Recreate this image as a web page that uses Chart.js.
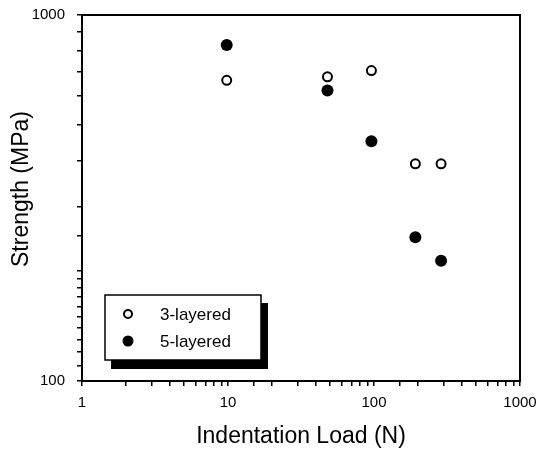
<!DOCTYPE html>
<html>
<head>
<meta charset="utf-8">
<script src="https://cdn.jsdelivr.net/npm/chart.js@4"></script>
<style>
  html, body { margin: 0; padding: 0; background: #fff; }
  #wrap { width: 540px; height: 453px; position: relative; }
</style>
</head>
<body>
<div id="wrap"><canvas id="strengthChart"></canvas></div>
<script>
// values (log-log)
const loads = [9.8, 48, 96, 192, 288];
const threeLayered = [663, 678, 705, 392, 392];
const fiveLayered = [828, 622, 452, 247, 213];
const xTickLabels = [1, 10, 100, 1000];
const yTickLabels = [100, 1000];
const seriesNames = ['3-layered', '5-layered'];

const FONT = '"Liberation Sans", Arial, sans-serif';

function toPoints(xs, ys) {
    return xs.map((x, i) => ({x: x, y: ys[i]}));
}

// frame, axis titles and the boxed legend with its drop shadow
const decorations = {
    id: 'decorations',
    afterDraw(chart) {
        const c = chart.ctx;
        const a = chart.chartArea;
        c.save();
        c.strokeStyle = '#000';
        c.lineWidth = 2;
        c.strokeRect(a.left, a.top, a.right - a.left, a.bottom - a.top);

        c.fillStyle = '#000';
        c.font = '23px ' + FONT;
        c.textAlign = 'center';
        c.textBaseline = 'middle';
        c.fillText('Indentation Load (N)', 301, 437);
        c.save();
        c.translate(22, 189);
        c.rotate(-Math.PI / 2);
        c.fillText('Strength (MPa)', 0, 0);
        c.restore();

        // legend
        const bx = 105, by = 295, bw = 156, bh = 65;
        c.fillStyle = '#000';
        c.fillRect(bx + 6, by + 8, bw + 1, bh + 1);
        c.fillStyle = '#fff';
        c.fillRect(bx, by, bw, bh);
        c.lineWidth = 1.5;
        c.strokeStyle = '#000';
        c.strokeRect(bx, by, bw, bh);

        c.beginPath();
        c.arc(128, 314, 4, 0, Math.PI * 2);
        c.fillStyle = '#fff';
        c.fill();
        c.lineWidth = 2;
        c.stroke();
        c.beginPath();
        c.arc(128, 341, 5.5, 0, Math.PI * 2);
        c.fillStyle = '#000';
        c.fill();

        c.font = '17px ' + FONT;
        c.textAlign = 'left';
        c.fillText(seriesNames[0], 160, 315);
        c.fillText(seriesNames[1], 160, 342);
        c.restore();
    }
};

const ctx = document.getElementById('strengthChart').getContext('2d');

const chart = new Chart(ctx, {
    type: 'scatter',
    data: {
        datasets: [{
            label: seriesNames[0],
            data: toPoints(loads, threeLayered),
            pointRadius: 4.5,
            pointBackgroundColor: '#fff',
            pointBorderColor: '#000',
            pointBorderWidth: 2,
        }, {
            label: seriesNames[1],
            data: toPoints(loads, fiveLayered),
            pointRadius: 6,
            pointBackgroundColor: '#000',
            pointBorderColor: '#000',
            pointBorderWidth: 0,
        }]
    },
    options: {
        animation: false,
        responsive: true,
        maintainAspectRatio: false,
        layout: {
            padding: {left: 0, top: 15, right: 20, bottom: 0}
        },
        plugins: {
            legend: {display: false},
            tooltip: {enabled: false}
        },
        scales: {
            x: {
                type: 'logarithmic',
                min: 1,
                max: 1000,
                afterFit: (s) => {
                    s.height = 72;
                    s.paddingLeft = 0;
                    s.paddingRight = 0;
                },
                border: {display: true, color: '#000', width: 2},
                grid: {
                    drawOnChartArea: false,
                    drawTicks: true,
                    tickLength: 5,
                    color: '#000',
                    lineWidth: 1.5
                },
                ticks: {
                    autoSkip: false,
                    maxRotation: 0,
                    padding: 8,
                    color: '#000',
                    font: {family: FONT, size: 15},
                    callback: (v) => xTickLabels.includes(v) ? String(v) : ''
                }
            },
            y: {
                type: 'logarithmic',
                min: 100,
                max: 1000,
                afterFit: (s) => {
                    s.width = 82;
                    s.paddingTop = 0;
                    s.paddingBottom = 0;
                },
                border: {display: true, color: '#000', width: 2},
                grid: {
                    drawOnChartArea: false,
                    drawTicks: true,
                    tickLength: 5,
                    color: '#000',
                    lineWidth: 1.5
                },
                ticks: {
                    autoSkip: false,
                    padding: 12,
                    color: '#000',
                    font: {family: FONT, size: 15},
                    callback: (v) => yTickLabels.includes(v) ? String(v) : ''
                }
            }
        }
    },
    plugins: [decorations]
});
</script>
</body>
</html>
